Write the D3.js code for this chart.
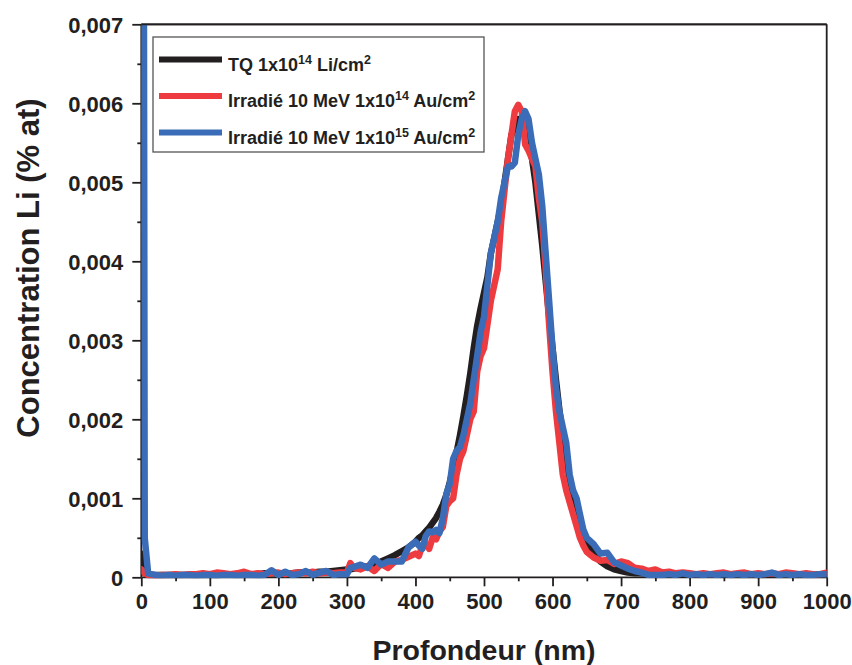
<!DOCTYPE html>
<html><head><meta charset="utf-8">
<script src="https://cdn.jsdelivr.net/npm/d3@7/dist/d3.min.js"></script>
<style>
html,body{margin:0;padding:0;background:#fff;}
text{font-family:"Liberation Sans",Arial,Helvetica,sans-serif;font-weight:bold;fill:#231f20;}
</style></head>
<body><svg id="c" width="852" height="665"></svg>
<script>
const depth = [0,5,
 10,20,30,40,50,60,70,80,90,100,110,120,130,140,150,160,170,180,190,200,210,220,230,240,250,260,270,280,290,300,
 305,
 310,320,330,340,350,360,370,380,390,400,
 405,410,415,420,425,430,435,440,445,450,455,460,465,470,475,480,485,490,495,500,
 505,510,515,520,525,530,535,540,545,550,555,560,565,570,575,580,585,590,595,600,
 605,610,615,620,625,630,635,640,645,650,
 660,670,680,690,700,710,720,730,740,750,760,770,780,790,800,810,820,830,840,850,
 860,870,880,890,900,910,920,930,940,950,960,970,980,990,1000];

const tq = [0.0003,0.00005,
 0.00003,0.00003,0.00003,0.00003,0.00003,0.00003,0.00003,0.00003,0.00003,0.00003,
 0.00003,0.00004,0.00004,0.00004,0.00004,0.00004,0.00004,0.00005,0.00005,0.00005,
 0.00005,0.00005,0.00006,0.00006,0.00006,0.00007,0.00007,0.00008,0.00009,0.0001,
 0.0001,
 0.00011,0.00012,0.00014,0.00016,0.0002,0.00024,0.00028,0.00033,0.00038,0.00045,
 0.0005,0.00053,0.00058,0.00063,0.00069,0.00075,0.00083,0.00092,0.00104,0.0012,
 0.00138,0.00158,0.0018,0.00204,0.0023,0.00258,0.0029,0.00318,0.0034,0.0036,
 0.0038,0.0041,0.0043,0.0045,0.0047,0.005,0.0053,0.0056,0.0057,0.0058,
 0.0058,0.0057,0.0055,0.0053,0.005,0.0046,0.0042,0.00375,0.0033,0.0029,
 0.0025,0.00212,0.00178,0.00148,0.00122,0.001,0.00082,0.00067,0.00055,0.00045,
 0.0003,0.0002,0.00014,0.0001,0.00008,0.00006,0.00005,0.00005,0.00004,0.00004,
 0.00004,0.00004,0.00004,0.00004,0.00004,0.00004,0.00004,0.00004,0.00004,0.00004,
 0.00003,0.00003,0.00003,0.00003,0.00003,0.00003,0.00003,0.00003,0.00003,0.00003,
 0.00003,0.00003,0.00003,0.00003,0.00003];

const irr14 = [0.0001,0.00005,
 0.00003,0.00002,0.00003,0.00003,0.00004,0.00003,0.00004,0.00004,0.00005,0.00004,
 0.00006,0.00005,0.00004,0.00005,0.00007,0.00004,0.00005,0.00004,0.00005,0.00006,
 0.00004,0.00005,0.00006,0.00005,0.00007,0.00005,0.00006,0.00005,0.00006,0.00006,
 0.00018,
 0.00012,0.0001,0.00014,0.00008,0.00017,0.00012,0.0002,0.00022,0.00026,0.0003,
 0.00027,0.0004,0.00042,0.00036,0.0005,0.00048,0.00058,0.00064,0.0009,0.00096,
 0.001,0.0013,0.0015,0.0016,0.0018,0.002,0.0021,0.0026,0.0028,0.0029,
 0.0032,0.0035,0.0037,0.0039,0.0045,0.0049,0.0053,0.0056,0.0059,0.00598,
 0.0059,0.00548,0.0054,0.0053,0.0052,0.0048,0.0045,0.0039,0.0032,0.0026,
 0.0021,0.0017,0.0013,0.0011,0.00095,0.0008,0.00065,0.0005,0.0004,0.00032,
 0.00025,0.00021,0.00022,0.00017,0.0002,0.00018,0.00012,0.00011,0.00008,0.0001,
 0.00006,0.00007,0.00005,0.00006,0.00005,0.00004,0.00005,0.00004,0.00005,0.00006,
 0.00004,0.00005,0.00006,0.00004,0.00005,0.00004,0.00005,0.00004,0.00006,0.00005,
 0.00004,0.00005,0.00004,0.00004,0.00006];

const irr15 = [0.03,0.0005,
 0.00005,0.00003,0.00002,0.00003,0.00002,0.00003,0.00003,0.00002,0.00003,0.00003,
 0.00002,0.00003,0.00003,0.00002,0.00003,0.00003,0.00002,0.00003,0.00009,0.00003,
 0.00007,0.00003,0.00004,0.00008,0.00003,0.00006,0.00008,0.00003,0.00004,0.00004,
 0.00012,
 0.00013,0.00016,0.00012,0.00024,0.00016,0.0002,0.0002,0.0002,0.00038,0.00045,
 0.0004,0.00036,0.00052,0.00058,0.00057,0.0006,0.00056,0.00075,0.00105,0.00118,
 0.0015,0.0016,0.00165,0.0018,0.002,0.0022,0.0025,0.0028,0.0031,0.0033,
 0.0037,0.0041,0.0043,0.0045,0.0048,0.005,0.0052,0.0052,0.00525,0.0056,
 0.0058,0.0059,0.0058,0.0055,0.0053,0.0051,0.0047,0.0041,0.0035,0.0029,
 0.0024,0.0021,0.0019,0.0017,0.0013,0.0011,0.001,0.0008,0.0006,0.0005,
 0.00042,0.0003,0.00031,0.00019,0.00015,0.00011,0.00008,0.00006,0.00003,0.00003,
 0.00003,0.00004,0.00003,0.00005,0.00003,0.00004,0.00003,0.00004,0.00003,0.00004,
 0.00003,0.00004,0.00003,0.00004,0.00003,0.00004,0.00006,0.00003,0.00004,0.00003,
 0.00004,0.00003,0.00003,0.00004,0.00004];

const seriesColors = ["#231f20", "#ee3b40", "#3b6cb7"];
const xTicks = [0,100,200,300,400,500,600,700,800,900,1000];
const xMinor = [50,150,250,350,450,550,650,750,850,950];
const yTicks = [0,0.001,0.002,0.003,0.004,0.005,0.006,0.007];
const yTickLabels = ["0","0,001","0,002","0,003","0,004","0,005","0,006","0,007"];
const yMinor = [0.0005,0.0015,0.0025,0.0035,0.0045,0.0055,0.0065];

const svg = d3.select("#c");
const L = 141.3, R = 826.7, T = 24.3, B = 577.3;
const x = d3.scaleLinear().domain([0,1000]).range([L,R]);
const y = d3.scaleLinear().domain([0,0.007]).range([B,T]);

svg.append("defs").append("clipPath").attr("id","clip")
  .append("rect").attr("x",L).attr("y",T).attr("width",R-L).attr("height",B-T+1);

// axes
const ax = svg.append("g").attr("transform",`translate(0,${B})`)
  .call(d3.axisBottom(x).tickValues(xTicks).tickSize(9).tickPadding(7).tickFormat(d3.format("d")));
svg.append("g").attr("transform",`translate(0,${B})`)
  .call(d3.axisBottom(x).tickValues(xMinor).tickSize(4).tickFormat(""));
const ay = svg.append("g").attr("transform",`translate(${L},0)`)
  .call(d3.axisLeft(y).tickValues(yTicks).tickSize(9).tickPadding(9).tickFormat((d,i) => yTickLabels[i]));
svg.append("g").attr("transform",`translate(${L},0)`)
  .call(d3.axisLeft(y).tickValues(yMinor).tickSize(4).tickFormat(""));
svg.selectAll(".domain").remove();
svg.selectAll(".tick line").attr("stroke","#231f20").attr("stroke-width",1.8);
svg.selectAll(".tick text").style("font-size","22px").attr("fill","#231f20")
  .style("font-family",'"Liberation Sans",Arial,sans-serif').style("font-weight","bold");
ax.selectAll(".tick text").attr("dy","0.71em");
ay.selectAll(".tick text").attr("dy","0.35em");
// frame
[[L,B,R,B],[L,T,L,B],[L,T,R,T],[R,T,R,B]].forEach(s => {
  svg.append("line").attr("x1",s[0]).attr("y1",s[1]).attr("x2",s[2]).attr("y2",s[3])
    .attr("stroke","#231f20").attr("stroke-width",1.8);
});

// series
const series = [tq, irr14, irr15];
const line = d3.line().x(d => x(d[0])).y(d => y(d[1]));
const g = svg.append("g").attr("clip-path","url(#clip)");
series.forEach((vals,i) => {
  const pts = depth.map((d,k) => [d, vals[k]]);
  g.append("path").datum(pts).attr("d", line)
    .attr("fill","none").attr("stroke", seriesColors[i])
    .attr("stroke-width",6.5).attr("stroke-linejoin","round").attr("stroke-linecap","round");
});
// top frame line over curves
svg.append("line").attr("x1",L).attr("x2",R).attr("y1",T).attr("y2",T).attr("stroke","#231f20").attr("stroke-width",1.8);

// axis titles
svg.append("text").attr("x",(L+R)/2).attr("y",660).attr("text-anchor","middle")
  .style("font-size","28.5px").text("Profondeur (nm)");
svg.append("text").attr("transform","translate(39,268) rotate(-90)").attr("text-anchor","middle")
  .style("font-size","31px").text("Concentration Li (% at)");

// legend
const lg = svg.append("g");
lg.append("rect").attr("x",153).attr("y",37).attr("width",331).attr("height",115)
  .attr("fill","#fff").attr("stroke","#555").attr("stroke-width",1.3);
const legendRows = [
  {name:"TQ 1x10", sup1:"14", rest:" Li/cm", sup2:"2"},
  {name:"Irradié 10 MeV 1x10", sup1:"14", rest:" Au/cm", sup2:"2"},
  {name:"Irradié 10 MeV 1x10", sup1:"15", rest:" Au/cm", sup2:"2"}
];
const rowY = [59.5, 96, 132.5];
legendRows.forEach((r,i) => {
  lg.append("line").attr("x1",159).attr("x2",222).attr("y1",rowY[i]).attr("y2",rowY[i])
    .attr("stroke",seriesColors[i]).attr("stroke-width",6);
  const t = lg.append("text").attr("x",228).attr("y",rowY[i]+11).style("font-size","18px");
  t.append("tspan").text(r.name);
  t.append("tspan").attr("dy",-7).style("font-size","12.5px").text(r.sup1);
  t.append("tspan").attr("dy",7).text(r.rest);
  t.append("tspan").attr("dy",-7).style("font-size","12.5px").text(r.sup2);
});
</script></body></html>
